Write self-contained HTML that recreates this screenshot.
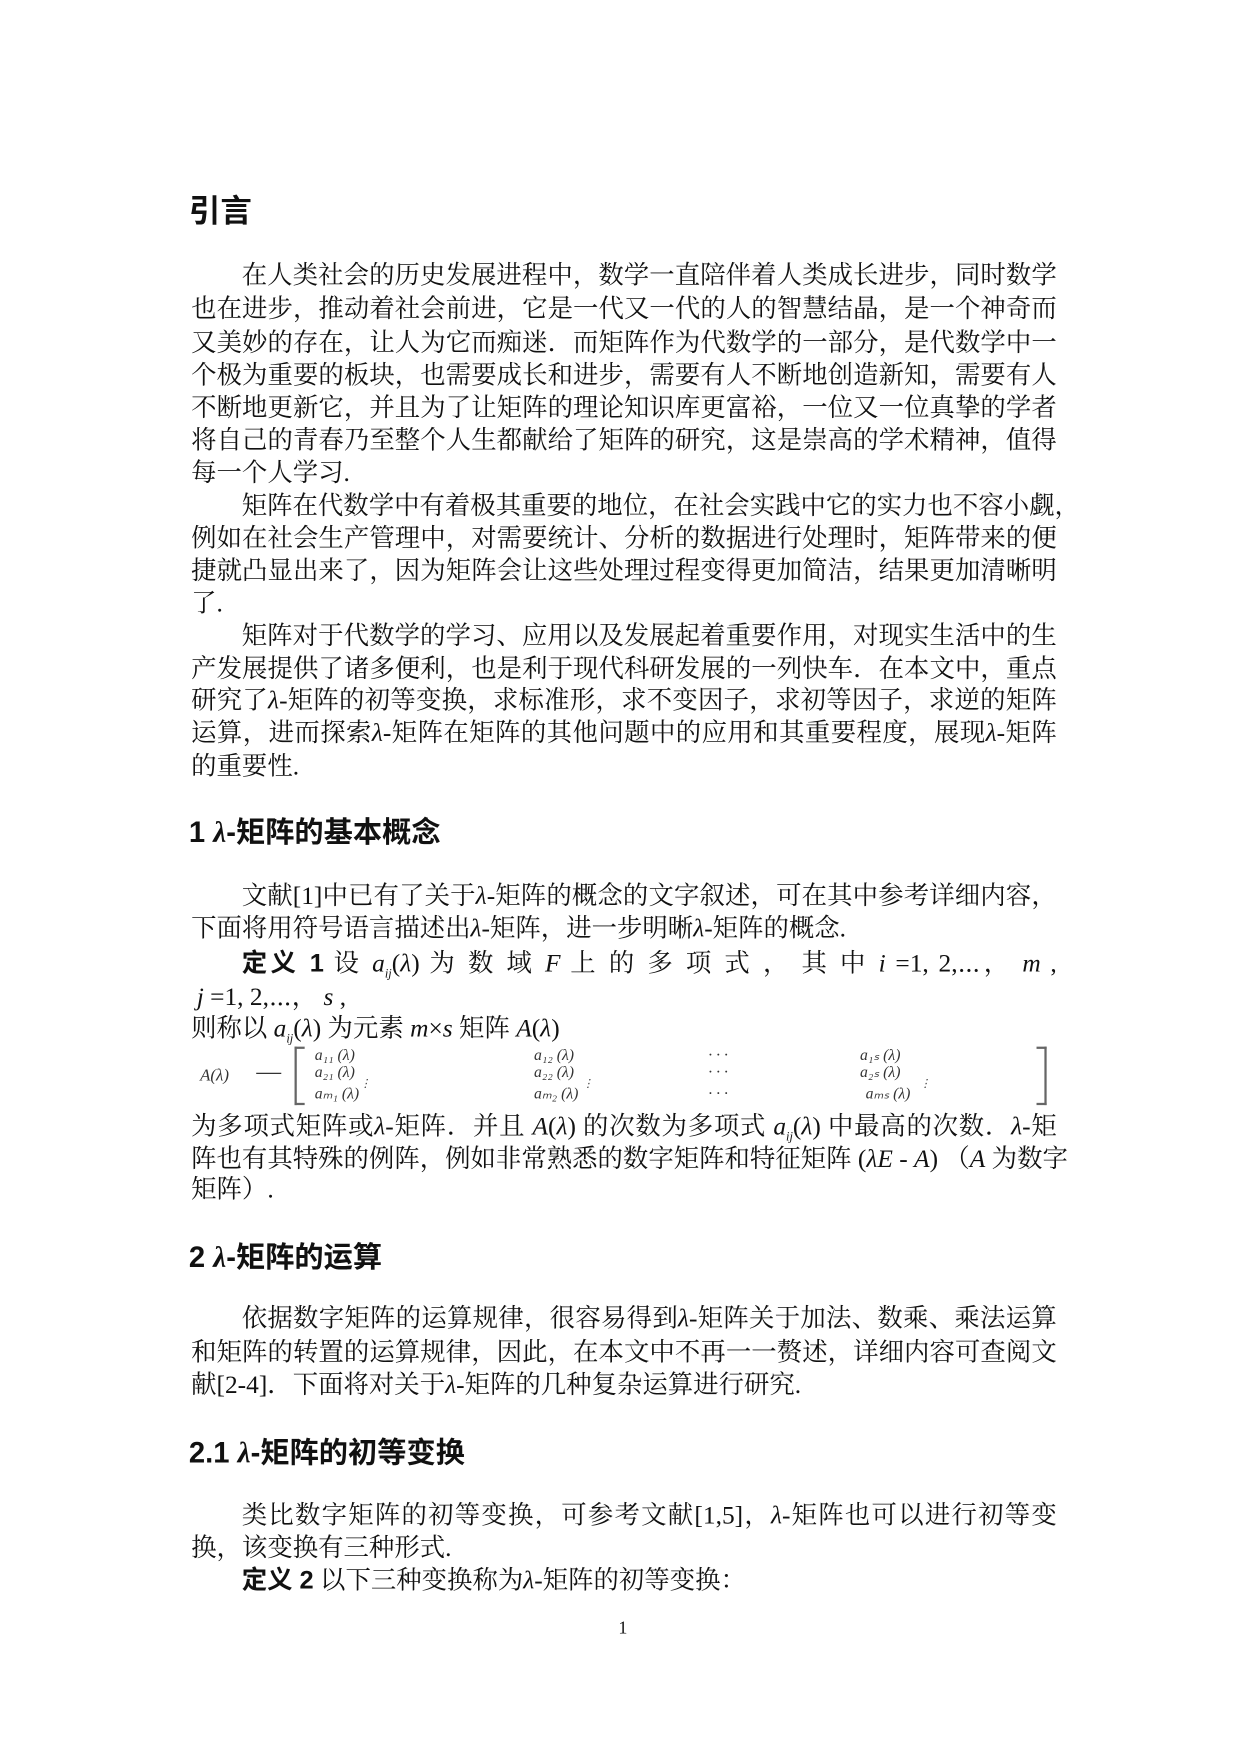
<!DOCTYPE html>
<html><head><meta charset="utf-8"><style>
html,body{margin:0;padding:0;background:#fff}
#pg{position:relative;width:1103px;height:1560px;transform:scale(1.12421);transform-origin:0 0;font-family:"Liberation Serif","Noto Serif CJK SC","Noto Sans CJK SC",serif;color:#111}
.l{position:absolute;left:170px;width:770px;font-size:22.6px;line-height:26px;white-space:nowrap;text-align:justify;text-align-last:justify}
.n{text-align-last:left}
.i{padding-left:45px;width:725px}
.h{position:absolute;left:168px;font-family:"Liberation Sans","Noto Sans CJK SC",sans-serif;font-weight:bold;font-size:26px;line-height:30px;white-space:nowrap}
.m{font-family:"Liberation Serif",serif;font-style:italic}
.b{font-family:"Liberation Sans","Noto Sans CJK SC",sans-serif;font-weight:bold}
.mx{position:absolute;font-family:"Liberation Serif",serif;font-style:italic;font-size:14px;line-height:14px;color:#333;white-space:nowrap}
</style></head><body><div id="pg">
<div class="h" style="top:173px;font-size:28px">引言</div>
<div class="l i" style="top:232px">在人类社会的历史发展进程中，数学一直陪伴着人类成长进步，同时数学</div>
<div class="l" style="top:262px">也在进步，推动着社会前进，它是一代又一代的人的智慧结晶，是一个神奇而</div>
<div class="l" style="top:292px">又美妙的存在，让人为它而痴迷．而矩阵作为代数学的一部分，是代数学中一</div>
<div class="l" style="top:321px">个极为重要的板块，也需要成长和进步，需要有人不断地创造新知，需要有人</div>
<div class="l" style="top:350px">不断地更新它，并且为了让矩阵的理论知识库更富裕，一位又一位真挚的学者</div>
<div class="l" style="top:379px">将自己的青春乃至整个人生都献给了矩阵的研究，这是崇高的学术精神，值得</div>
<div class="l n" style="top:408px">每一个人学习.</div>
<div class="l i" style="top:437px">矩阵在代数学中有着极其重要的地位，在社会实践中它的实力也不容小觑，</div>
<div class="l" style="top:466px">例如在社会生产管理中，对需要统计、分析的数据进行处理时，矩阵带来的便</div>
<div class="l" style="top:495px">捷就凸显出来了，因为矩阵会让这些处理过程变得更加简洁，结果更加清晰明</div>
<div class="l n" style="top:524px">了.</div>
<div class="l i" style="top:553px">矩阵对于代数学的学习、应用以及发展起着重要作用，对现实生活中的生</div>
<div class="l" style="top:582px">产发展提供了诸多便利，也是利于现代科研发展的一列快车．在本文中，重点</div>
<div class="l" style="top:610px">研究了<span class="m">λ</span>-矩阵的初等变换，求标准形，求不变因子，求初等因子，求逆的矩阵</div>
<div class="l" style="top:639px">运算，进而探索<span class="m">λ</span>-矩阵在矩阵的其他问题中的应用和其重要程度，展现<span class="m">λ</span>-矩阵</div>
<div class="l n" style="top:669px">的重要性.</div>
<div class="h" style="top:725px">1 <span class="m">λ</span>-矩阵的基本概念</div>
<div class="l i" style="top:784px">文献[1]中已有了关于<span class="m">λ</span>-矩阵的概念的文字叙述，可在其中参考详细内容，</div>
<div class="l n" style="top:813px">下面将用符号语言描述出<span class="m">λ</span>-矩阵，进一步明晰<span class="m">λ</span>-矩阵的概念.</div>
<div class="l i" style="top:844px"><span class="b">定义 1</span> 设 <span class="m">a<sub style="font-size:11px">ij</sub></span>(<span class="m">λ</span>) 为 数 域 <span class="m">F</span> 上 的 多 项 式 ， 其 中 <span class="m">i</span> =1, 2,⋯， <span class="m">m</span> ,</div>
<div class="l n" style="top:874px;left:175px"><span class="m">j</span> =1, 2,⋯， <span class="m">s</span> ,</div>
<div class="l n" style="top:902px">则称以 <span class="m">a<sub style="font-size:11px">ij</sub></span>(<span class="m">λ</span>) 为元素 <span class="m">m</span>×<span class="m">s</span> 矩阵 <span class="m">A</span>(<span class="m">λ</span>)</div>
<div class="mx" style="left:178px;top:950px;font-size:15px">A(λ)</div><div class="mx" style="left:228px;top:946px;font-size:22px;font-style:normal">—</div>
<div style="position:absolute;left:262px;top:931px;width:7px;height:48px;border:2px solid #666;border-right:none"></div>
<div style="position:absolute;left:922px;top:931px;width:7px;height:48px;border:2px solid #666;border-left:none"></div>
<div class="mx" style="left:280px;top:933px">a₁₁ (λ)</div><div class="mx" style="left:475px;top:933px">a₁₂ (λ)</div><div class="mx" style="left:630px;top:933px">· · ·</div><div class="mx" style="left:765px;top:933px">a₁ₛ (λ)</div>
<div class="mx" style="left:280px;top:948px">a₂₁ (λ)</div><div class="mx" style="left:475px;top:948px">a₂₂ (λ)</div><div class="mx" style="left:630px;top:948px">· · ·</div><div class="mx" style="left:765px;top:948px">a₂ₛ (λ)</div>
<div class="mx" style="left:320px;top:958px;font-size:10px">⋮</div><div class="mx" style="left:518px;top:958px;font-size:10px">⋮</div><div class="mx" style="left:818px;top:958px;font-size:10px">⋮</div>
<div class="mx" style="left:280px;top:967px">aₘ₁ (λ)</div><div class="mx" style="left:475px;top:967px">aₘ₂ (λ)</div><div class="mx" style="left:630px;top:967px">· · ·</div><div class="mx" style="left:770px;top:967px">aₘₛ (λ)</div>
<div class="l" style="top:989px">为多项式矩阵或<span class="m">λ</span>-矩阵．并且 <span class="m">A</span>(<span class="m">λ</span>) 的次数为多项式 <span class="m">a<sub style="font-size:11px">ij</sub></span>(<span class="m">λ</span>) 中最高的次数．<span class="m">λ</span>-矩</div>
<div class="l" style="top:1018px">阵也有其特殊的例阵，例如非常熟悉的数字矩阵和特征矩阵 (<span class="m">λE</span> - <span class="m">A</span>) （<span class="m">A</span> 为数字</div>
<div class="l n" style="top:1045px">矩阵）.</div>
<div class="h" style="top:1103px">2 <span class="m">λ</span>-矩阵的运算</div>
<div class="l i" style="top:1160px">依据数字矩阵的运算规律，很容易得到<span class="m">λ</span>-矩阵关于加法、数乘、乘法运算</div>
<div class="l" style="top:1190px">和矩阵的转置的运算规律，因此，在本文中不再一一赘述，详细内容可查阅文</div>
<div class="l n" style="top:1219px">献[2-4]．下面将对关于<span class="m">λ</span>-矩阵的几种复杂运算进行研究.</div>
<div class="h" style="top:1277px">2.1 <span class="m">λ</span>-矩阵的初等变换</div>
<div class="l i" style="top:1335px">类比数字矩阵的初等变换，可参考文献[1,5]，<span class="m">λ</span>-矩阵也可以进行初等变</div>
<div class="l n" style="top:1364px">换，该变换有三种形式.</div>
<div class="l n i" style="top:1393px"><span class="b">定义 2</span> 以下三种变换称为<span class="m">λ</span>-矩阵的初等变换：</div>
<div style="position:absolute;left:550px;top:1440px;font-size:16px">1</div>
</div></body></html>
